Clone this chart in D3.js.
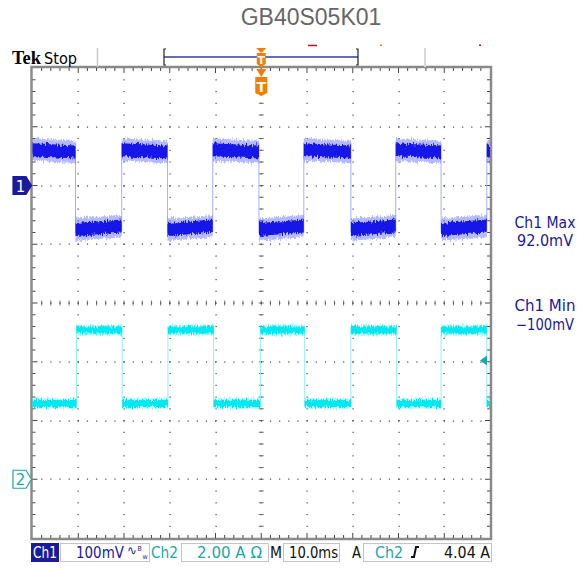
<!DOCTYPE html>
<html><head><meta charset="utf-8">
<script src="https://cdn.jsdelivr.net/npm/d3@7"></script>
<style>
html,body{margin:0;padding:0;background:#fff;}
svg{display:block;}
</style></head>
<body>
<script>
// ---------- data ----------
const title = "GB40S05K01";
const timeDomain = [-50, 50];            // ms, 10 ms/div
const ch1Domain = [-600, 200];           // mV, 100 mV/div, ch1 ground 2 div above centre
const ch2Domain = [-2, 14];              // A, 2 A/div, ch2 ground 3 div below centre
// edge times (ms)
const ch1Edges = [-40.6, -30.5, -20.5, -10.6, -0.5, 9.3, 19.6, 29.4, 39.3, 49.3];
const ch2Edges = [-40.4, -30.4, -20.4, -10.4, -0.2, 9.5, 19.6, 29.6, 39.3, 49.3];
const ch1StartsHigh = true;
const ch2StartsHigh = false;
// levels: [value at segment start, value at segment end]
const ch1High = [61, 57];      // mV
const ch1Low = [-75, -69];     // mV
const ch1Noise = [11, 19];     // mV half-widths core / outer
const ch2High = [5.08, 5.08];  // A
const ch2Low = [2.58, 2.58];   // A
const ch2Noise = [0.12, 0.18];
const measLabels = ["Ch1 Max", "92.0mV", "Ch1 Min", "\u2212100mV"];
const triggerLevel = 4.04;     // A on ch2

// ---------- layout ----------
const W = 587, H = 569;
const L = 32.5, R = 490, T = 68, B = 538;
const svg = d3.select("body").append("svg").attr("width", W).attr("height", H);

// texture filter for the noisy traces (visual style only)
const defs = svg.append("defs");
const f = defs.append("filter").attr("id", "jag").attr("x", "-2%").attr("y", "-40%").attr("width", "104%").attr("height", "180%");
f.append("feTurbulence").attr("type", "fractalNoise").attr("baseFrequency", "0.8 0.2").attr("numOctaves", 2).attr("seed", 4).attr("result", "n");
f.append("feColorMatrix").attr("in", "n").attr("type", "matrix")
  .attr("values", "0 0 0 0 0.5  0 1 0 0 0  0 0 0 0 0  0 0 0 0 1").attr("result", "m");
f.append("feDisplacementMap").attr("in", "SourceGraphic").attr("in2", "m").attr("scale", 7)
  .attr("xChannelSelector", "R").attr("yChannelSelector", "G");

const x = d3.scaleLinear().domain(timeDomain).range([L, R]);
const y1 = d3.scaleLinear().domain(ch1Domain).range([B, T]);
const y2 = d3.scaleLinear().domain(ch2Domain).range([B, T]);
const gy = d3.scaleLinear().domain([-4, 4]).range([B, T]);   // divisions
const gx = d3.scaleLinear().domain([-5, 5]).range([L, R]);

// title
svg.append("text").attr("x", 311).attr("y", 25).attr("text-anchor", "middle")
  .attr("font-family", "Liberation Sans, Arial, sans-serif").attr("font-size", 23)
  .attr("fill", "#666").text(title);

// ---------- graticule ----------
const grid = svg.append("g");
const dotCol = "#444";
for (let i = -4; i <= 4; i++) {
  const xx = Math.round(gx(i));
  for (let k = 1; k < 40; k++) {
    const yy = gy(-4 + k / 5);
    grid.append("rect").attr("x", xx - 0.5).attr("y", yy - 0.5).attr("width", 1.2).attr("height", 1.2).attr("fill", dotCol);
  }
}
for (let j = -3; j <= 3; j++) {
  const yy = Math.round(gy(j));
  for (let k = 1; k < 50; k++) {
    const xx = gx(-5 + k / 5);
    grid.append("rect").attr("x", xx - 0.5).attr("y", yy - 0.5).attr("width", 1.2).attr("height", 1.2).attr("fill", dotCol);
  }
}
for (let k = 1; k < 50; k++) {
  const xx = gx(-5 + k / 5);
  grid.append("line").attr("x1", xx).attr("x2", xx).attr("y1", gy(0) - 2.5).attr("y2", gy(0) + 2.5).attr("stroke", "#555").attr("stroke-width", 0.8);
}
for (let k = 1; k < 40; k++) {
  const yy = gy(-4 + k / 5);
  grid.append("line").attr("y1", yy).attr("y2", yy).attr("x1", gx(0) - 2.5).attr("x2", gx(0) + 2.5).attr("stroke", "#555").attr("stroke-width", 0.8);
}
grid.append("rect").attr("x", L - 1).attr("y", T - 1).attr("width", R - L + 2).attr("height", B - T + 2)
  .attr("fill", "none").attr("stroke", "#8a8a8a").attr("stroke-width", 2.5);
for (let k = 1; k < 50; k++) {
  const xx = gx(-5 + k / 5);
  const len = (k % 5 === 0) ? 5 : 3;
  grid.append("line").attr("x1", xx).attr("x2", xx).attr("y1", T).attr("y2", T + len).attr("stroke", "#333").attr("stroke-width", 0.9);
  grid.append("line").attr("x1", xx).attr("x2", xx).attr("y1", B).attr("y2", B - len).attr("stroke", "#333").attr("stroke-width", 0.9);
}
for (let k = 1; k < 40; k++) {
  const yy = gy(-4 + k / 5);
  const len = (k % 5 === 0) ? 5 : 3;
  grid.append("line").attr("y1", yy).attr("y2", yy).attr("x1", L).attr("x2", L + len).attr("stroke", "#333").attr("stroke-width", 0.9);
  grid.append("line").attr("y1", yy).attr("y2", yy).attr("x1", R).attr("x2", R - len).attr("stroke", "#333").attr("stroke-width", 0.9);
}

// ---------- waveforms ----------
function segments(edges, startsHigh) {
  const bounds = [timeDomain[0], ...edges, timeDomain[1]];
  const segs = [];
  for (let i = 0; i < bounds.length - 1; i++) {
    const high = (i % 2 === 0) ? startsHigh : !startsHigh;
    if (bounds[i + 1] > bounds[i]) segs.push({ t0: bounds[i], t1: bounds[i + 1], high });
  }
  return segs;
}
function drawChannel(edges, startsHigh, hi, lo, noise, ys, cols, edgeCol) {
  const g = svg.append("g");
  const segs = segments(edges, startsHigh);
  edges.forEach((t) => {
    if (t >= timeDomain[1]) return;
    g.append("line").attr("x1", x(t)).attr("x2", x(t))
      .attr("y1", ys(hi[0] + noise[0])).attr("y2", ys(lo[1] - noise[0]))
      .attr("stroke", edgeCol).attr("stroke-width", 1);
  });
  const bands = g.append("g").attr("filter", "url(#jag)");
  const widths = [noise[1], noise[0]];
  segs.forEach(s => {
    const lv = s.high ? hi : lo;
    widths.forEach((w, wi) => {
      const pts = [{ t: s.t0, v: lv[0] }, { t: s.t1, v: lv[1] }];
      const area = d3.area().x(d => x(d.t)).y0(d => ys(d.v - w)).y1(d => ys(d.v + w));
      bands.append("path").attr("d", area(pts)).attr("fill", cols[wi]);
    });
  });
}
drawChannel(ch1Edges, ch1StartsHigh, ch1High, ch1Low, ch1Noise, y1,
  ["rgba(90,100,255,0.45)", "#1818e8"], "#a9adff");
drawChannel(ch2Edges, ch2StartsHigh, ch2High, ch2Low, ch2Noise, y2,
  ["rgba(100,240,245,0.55)", "#00e8f0"], "#8ff0f2");

// ---------- channel markers ----------
const navy = "#1a1a9c", teal = "#1aa8a8";
function marker(yc, fill, stroke, txtCol, label) {
  const g = svg.append("g");
  const p = `M13,${yc - 9} L26,${yc - 9} L31.5,${yc} L26,${yc + 9} L13,${yc + 9} Z`;
  g.append("path").attr("d", p).attr("fill", fill).attr("stroke", stroke).attr("stroke-width", 1.2);
  g.append("text").attr("x", 20.5).attr("y", yc + 6).attr("text-anchor", "middle")
    .attr("font-family", "DejaVu Sans, sans-serif").attr("font-size", 15).attr("fill", txtCol).text(label);
}
marker(y1(0), navy, navy, "#fff", "1");
marker(y2(0), "#fff", teal, teal, "2");

const ty = y2(triggerLevel);
svg.append("path").attr("d", `M480,${ty} L487,${ty - 5} L487,${ty + 5} Z`).attr("fill", teal);

// ---------- top bar ----------
const topBar = svg.append("g");
topBar.append("text").attr("x", 12).attr("y", 64).attr("font-family", "Liberation Serif, serif")
  .attr("font-weight", "bold").attr("font-size", 19).attr("fill", "#000")
  .attr("textLength", 29).attr("lengthAdjust", "spacingAndGlyphs").text("Tek");
topBar.append("text").attr("x", 44).attr("y", 64).attr("font-family", "DejaVu Sans Condensed, DejaVu Sans, sans-serif")
  .attr("font-size", 16).attr("fill", "#000").attr("textLength", 33).attr("lengthAdjust", "spacingAndGlyphs").text("Stop");
topBar.append("line").attr("x1", 97.5).attr("x2", 97.5).attr("y1", 48).attr("y2", 67).attr("stroke", "#c8c8c8").attr("stroke-width", 1.5);
topBar.append("line").attr("x1", 425).attr("x2", 425).attr("y1", 48).attr("y2", 67).attr("stroke", "#d8d8d8").attr("stroke-width", 2);
topBar.append("line").attr("x1", 164).attr("x2", 358).attr("y1", 57).attr("y2", 57).attr("stroke", "#3a3aa8").attr("stroke-width", 1.5);
topBar.append("path").attr("d", "M166,49 L164,49 L164,65 L166,65").attr("fill", "none").attr("stroke", "#222").attr("stroke-width", 1.2);
topBar.append("path").attr("d", "M356,49 L358,49 L358,65 L356,65").attr("fill", "none").attr("stroke", "#222").attr("stroke-width", 1.2);
topBar.append("line").attr("x1", 308).attr("x2", 317).attr("y1", 45.5).attr("y2", 45.5).attr("stroke", "#d01010").attr("stroke-width", 1.5);
topBar.append("rect").attr("x", 380).attr("y", 44.5).attr("width", 2).attr("height", 1.5).attr("fill", "#f08020");
topBar.append("rect").attr("x", 479).attr("y", 44.5).attr("width", 2).attr("height", 1.5).attr("fill", "#d01010");

const orange = "#f57c00";
function tMarker(cx, yTop, yTri, yBot, small) {
  const g = svg.append("g");
  g.append("path").attr("d", `M${cx - 5},${yTop} L${cx + 5},${yTop} L${cx},${yTri} Z`).attr("fill", orange);
  const w = small ? 9 : 12;
  g.append("path").attr("d", `M${cx - w / 2},${yTri} L${cx + w / 2},${yTri} L${cx + w / 2},${yBot - 3} L${cx},${yBot} L${cx - w / 2},${yBot - 3} Z`).attr("fill", orange);
  g.append("text").attr("x", cx).attr("y", yTri + (yBot - yTri) * 0.78).attr("text-anchor", "middle")
    .attr("font-family", "DejaVu Sans, sans-serif").attr("font-weight", "bold").attr("font-size", small ? 11 : 14).attr("fill", "#fff").text("T");
}
tMarker(x(0), 48, 53, 67, true);
tMarker(x(0), 69, 77, 96, false);

// ---------- measurement labels ----------
const meas = svg.append("g").attr("font-family", "DejaVu Sans Condensed, DejaVu Sans, sans-serif").attr("font-size", 15).attr("fill", navy).attr("text-anchor", "middle");
const measY = [228, 246, 311, 330];
const measW = [61, 56, 61, 58];
measLabels.forEach((s, i) => {
  meas.append("text").attr("x", 545).attr("y", measY[i]).attr("textLength", measW[i]).attr("lengthAdjust", "spacingAndGlyphs").text(s);
});

// ---------- status bar ----------
const sb = svg.append("g").attr("font-family", "DejaVu Sans Condensed, DejaVu Sans, sans-serif").attr("font-size", 16);
const boxCol = "#c4c4c4";
sb.append("rect").attr("x", 31).attr("y", 543).attr("width", 28).attr("height", 19).attr("fill", navy);
sb.append("text").attr("x", 33).attr("y", 558).attr("fill", "#fff").attr("textLength", 24).attr("lengthAdjust", "spacingAndGlyphs").text("Ch1");
sb.append("rect").attr("x", 60.5).attr("y", 543.5).attr("width", 89).attr("height", 18).attr("fill", "none").attr("stroke", boxCol);
sb.append("text").attr("x", 76).attr("y", 558).attr("fill", navy).attr("textLength", 48).attr("lengthAdjust", "spacingAndGlyphs").text("100mV");
sb.append("text").attr("x", 127).attr("y", 555).attr("fill", navy).attr("font-size", 13).text("\u223F");
sb.append("text").attr("x", 137.5).attr("y", 551).attr("fill", navy).attr("font-size", 7).text("B");
sb.append("text").attr("x", 142.5).attr("y", 558.5).attr("fill", navy).attr("font-size", 7).text("w");
sb.append("text").attr("x", 151).attr("y", 558).attr("fill", teal).attr("textLength", 27).attr("lengthAdjust", "spacingAndGlyphs").text("Ch2");
sb.append("rect").attr("x", 181.5).attr("y", 543.5).attr("width", 87).attr("height", 18).attr("fill", "none").attr("stroke", boxCol);
sb.append("text").attr("x", 197).attr("y", 558).attr("fill", teal).attr("textLength", 65).attr("lengthAdjust", "spacingAndGlyphs").text("2.00 A \u03A9");
sb.append("text").attr("x", 270).attr("y", 558).attr("fill", "#111").attr("textLength", 12).attr("lengthAdjust", "spacingAndGlyphs").text("M");
sb.append("rect").attr("x", 283.5).attr("y", 543.5).attr("width", 56).attr("height", 18).attr("fill", "none").attr("stroke", boxCol);
sb.append("text").attr("x", 289).attr("y", 558).attr("fill", "#111").attr("textLength", 49).attr("lengthAdjust", "spacingAndGlyphs").text("10.0ms");
sb.append("text").attr("x", 352).attr("y", 558).attr("fill", "#111").attr("textLength", 9).attr("lengthAdjust", "spacingAndGlyphs").text("A");
sb.append("rect").attr("x", 363.5).attr("y", 543.5).attr("width", 128).attr("height", 18).attr("fill", "none").attr("stroke", boxCol);
sb.append("text").attr("x", 375).attr("y", 558).attr("fill", teal).attr("textLength", 28).attr("lengthAdjust", "spacingAndGlyphs").text("Ch2");
sb.append("path").attr("d", "M411,557 L414,557 L416,547 L419,547").attr("fill", "none").attr("stroke", "#111").attr("stroke-width", 2);
sb.append("text").attr("x", 444).attr("y", 558).attr("fill", "#111").attr("textLength", 46).attr("lengthAdjust", "spacingAndGlyphs").text(triggerLevel.toFixed(2) + " A");
</script>
</body></html>
